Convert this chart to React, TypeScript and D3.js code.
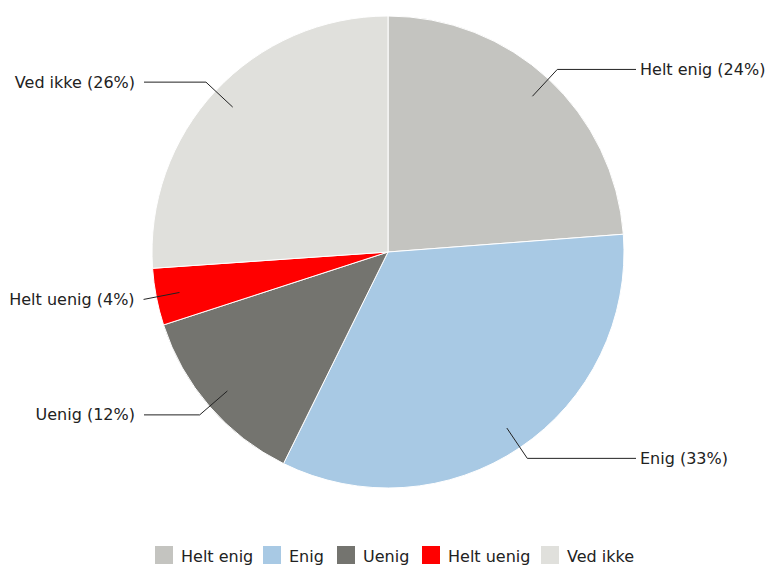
import React from 'react';
import * as d3 from 'd3';

const categories = ['Helt enig', 'Enig', 'Uenig', 'Helt uenig', 'Ved ikke'];
const values = [23.8, 33.5, 12.7, 3.9, 26.1];
const percentLabels = ['24%', '33%', '12%', '4%', '26%'];
const colors = ['#c4c4c0', '#a8c9e4', '#74746f', '#ff0000', '#e0e0dc'];

const width = 768;
const height = 565;
const cx = 388;
const cy = 252;
const radius = 236;
const font = 'Verdana, "DejaVu Sans", sans-serif';

const App: React.FC = () => {
  const pie = d3.pie<number>().sort(null).value(d => d)(values);
  const arc = d3.arc<d3.PieArcDatum<number>>().innerRadius(0).outerRadius(radius);

  // legend item spacing (square + text + gap)
  const legendWidths = [108, 74, 85, 119];
  const legendX = d3.cumsum([155, ...legendWidths]);

  return (
    <svg width={width} height={height} style={{ position: 'absolute', left: 0, top: 0 }}>
      <g transform={`translate(${cx},${cy})`}>
        {pie.map((d, i) => (
          <path key={i} d={arc(d) || ''} fill={colors[i]} stroke="#fff" strokeWidth={1} />
        ))}
        {pie.map((d, i) => {
          const mid = (d.startAngle + d.endAngle) / 2;
          const p = (r: number) => [Math.sin(mid) * r, -Math.cos(mid) * r];
          const [x1, y1] = p(radius * 0.9);
          const [x2, y2] = p(radius * 1.055);
          const right = Math.sin(mid) > 0;
          const x3 = right ? 248 : -244;
          const xEnd = right ? Math.max(x2, x3) : Math.min(x2, x3);
          return (
            <g key={`l${i}`}>
              <polyline
                points={`${x1},${y1} ${x2},${y2} ${xEnd},${y2}`}
                fill="none"
                stroke="#222"
                strokeWidth={1}
              />
              <text
                x={right ? xEnd + 4 : xEnd - 9}
                y={y2}
                dy="0.35em"
                textAnchor={right ? 'start' : 'end'}
                fontFamily={font}
                fontSize={16}
                fill="#222"
              >
                {`${categories[i]} (${percentLabels[i]})`}
              </text>
            </g>
          );
        })}
      </g>
      <g>
        {categories.map((c, i) => (
          <g key={c} transform={`translate(${legendX[i]},546)`}>
            <rect width={18} height={18} fill={colors[i]} />
            <text x={26} y={10} dy="0.35em" fontFamily={font} fontSize={16} fill="#222">
              {c}
            </text>
          </g>
        ))}
      </g>
    </svg>
  );
};

export default App;
